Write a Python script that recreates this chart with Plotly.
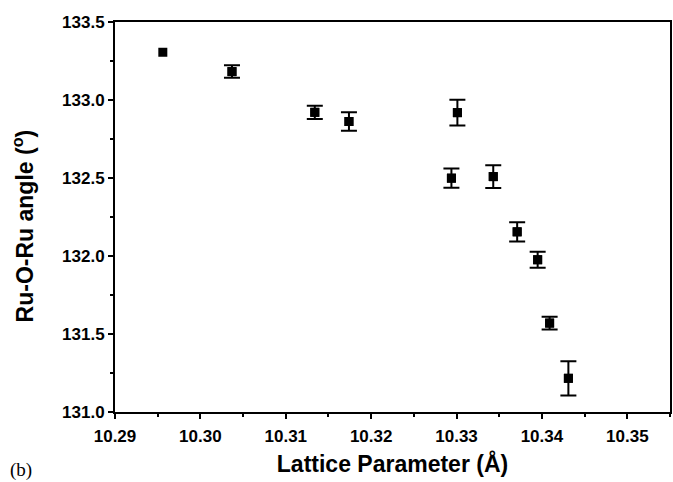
import plotly.graph_objects as go

lattice = [10.2956, 10.3037, 10.3134, 10.3174, 10.3294, 10.3301, 10.3343, 10.3371, 10.3395, 10.3409, 10.3431]
angle = [133.306, 133.182, 132.921, 132.862, 132.499, 132.919, 132.509, 132.155, 131.976, 131.570, 131.216]
angle_err = [None, 0.040, 0.042, 0.059, 0.062, 0.083, 0.073, 0.062, 0.052, 0.041, 0.110]

x_ticks = [10.29, 10.30, 10.31, 10.32, 10.33, 10.34, 10.35]
y_ticks = [131.0, 131.5, 132.0, 132.5, 133.0, 133.5]

idx = [i for i, e in enumerate(angle_err) if e is not None]

fig = go.Figure()
# error bars only where an uncertainty is visible
fig.add_trace(go.Scatter(
    x=[lattice[i] for i in idx], y=[angle[i] for i in idx], mode="markers",
    marker=dict(symbol="square", size=9, color="black"),
    error_y=dict(type="data", array=[angle_err[i] for i in idx], visible=True,
                 color="black", thickness=2, width=8),
    showlegend=False, hoverinfo="skip",
))
fig.add_trace(go.Scatter(
    x=lattice, y=angle, mode="markers",
    marker=dict(symbol="square", size=9, color="black"),
    showlegend=False,
))

font_main = "Liberation Sans, Arial, sans-serif"
fig.update_layout(
    width=673, height=482,
    margin=dict(l=115, r=1, t=22, b=70),
    plot_bgcolor="white", paper_bgcolor="white",
    font=dict(family=font_main, color="black"),
    xaxis=dict(
        range=[10.29, 10.355], tickvals=x_ticks, ticktext=[f"{v:.2f}" for v in x_ticks],
        ticks="outside", ticklen=5, tickwidth=2, tickcolor="black", ticklabelstandoff=3,
        minor=dict(dtick=0.005, tick0=10.29, ticks="outside", ticklen=3, tickwidth=1.5, tickcolor="black"),
        showline=True, linewidth=2, linecolor="black", mirror=True,
        showgrid=False, zeroline=False,
        tickfont=dict(size=17, family=font_main, weight="bold"),
        title=dict(text="<b>Lattice Parameter (Å)</b>", font=dict(size=23), standoff=10),
    ),
    yaxis=dict(
        range=[131.0, 133.5], tickvals=y_ticks, ticktext=[f"{v:.1f}" for v in y_ticks],
        ticks="outside", ticklen=5, tickwidth=2, tickcolor="black",
        minor=dict(dtick=0.25, tick0=131.0, ticks="outside", ticklen=3, tickwidth=1.5, tickcolor="black"),
        showline=True, linewidth=2, linecolor="black", mirror=True,
        showgrid=False, zeroline=False,
        tickfont=dict(size=17, family=font_main, weight="bold"),
    ),
)
fig.add_annotation(
    text="<b>Ru-O-Ru angle (<sup>o</sup>)</b>", xref="paper", yref="paper",
    x=-0.165, y=0.477, xanchor="center", yanchor="middle", textangle=-90,
    showarrow=False, font=dict(family=font_main, size=23, color="black"),
)
fig.add_annotation(
    text="(b)", xref="paper", yref="paper", x=-0.192, y=-0.149,
    xanchor="left", yanchor="middle", showarrow=False,
    font=dict(family="Liberation Serif, Times New Roman, serif", size=19, color="black"),
)
fig.write_html("out.html")
